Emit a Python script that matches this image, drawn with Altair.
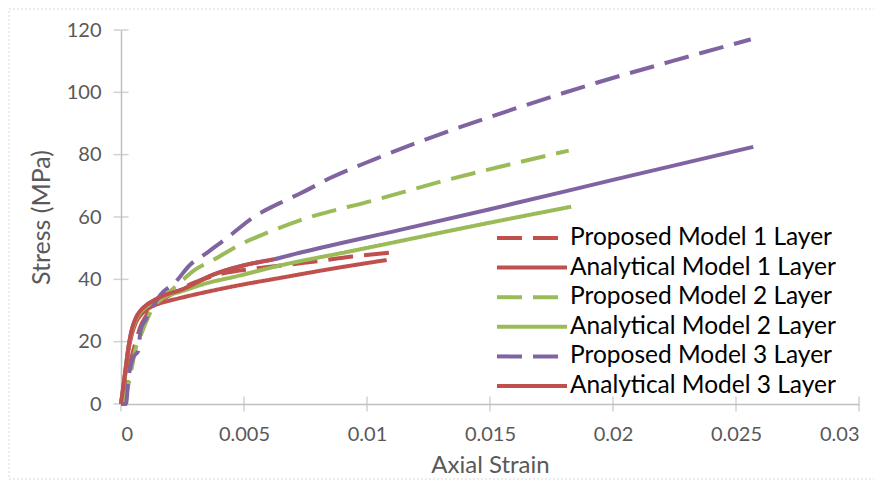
import altair as alt
import pandas as pd

# ---------------- data ----------------
series_names = [
    "Proposed Model 1 Layer",
    "Analytical Model 1 Layer",
    "Proposed Model 2 Layer",
    "Analytical Model 2 Layer",
    "Proposed Model 3 Layer",
    "Analytical Model 3 Layer",
]
series_colors = ["#C0504D", "#C0504D", "#9BBB59", "#9BBB59", "#8064A2", "#C0504D"]
series_dash = [[25, 11], [1, 0], [25, 11], [1, 0], [25, 11], [1, 0]]

p1_strain = [0, 0.0002, 0.0004, 0.0006, 0.0008, 0.001, 0.0014, 0.002, 0.003, 0.0042, 0.0055, 0.0078, 0.0094, 0.0109]
p1_stress = [0, 5, 14, 20, 25, 28, 32, 35, 39, 42, 43.5, 45.6, 47.3, 48.5]

a1_strain = [0, 0.0001, 0.0002, 0.0003, 0.0004, 0.0006, 0.0008, 0.001, 0.0014, 0.0018, 0.0024, 0.0035, 0.0046, 0.0065, 0.0085, 0.0108]
a1_stress = [0, 5, 11, 17, 21, 26, 28.5, 30, 31.8, 32.8, 34, 36, 37.8, 40.5, 43.3, 46.2]

p2_strain = [0, 0.0002, 0.0004, 0.0006, 0.0008, 0.001, 0.0013, 0.0017, 0.0024, 0.003, 0.00375, 0.0048, 0.0059, 0.0073, 0.0103, 0.0133, 0.0163, 0.0182]
p2_stress = [0, 3, 10, 18, 22, 26, 31, 34, 39, 43, 46.2, 51, 54.8, 59, 65.4, 72, 77.8, 81.3]

a2_strain = [0, 0.0001, 0.0002, 0.0003, 0.0004, 0.0006, 0.0008, 0.001, 0.0014, 0.0018, 0.0024, 0.0035, 0.0046, 0.0065, 0.0092, 0.0113, 0.014, 0.0183]
a2_stress = [0, 5, 12, 18, 22, 27, 29.5, 31, 33, 34.5, 36, 38.8, 40.8, 44.5, 48.8, 52.2, 56.6, 63.3]

p3_strain = [0, 0.0002, 0.0003, 0.0005, 0.0007, 0.0008, 0.001, 0.0012, 0.0016, 0.0022, 0.0028, 0.0034, 0.0042, 0.0054, 0.0067, 0.0073, 0.0085, 0.0103, 0.0133, 0.0163, 0.0193, 0.0224, 0.0256]
p3_stress = [0, 0, 8, 15, 17, 24, 27, 30, 35, 39, 44.6, 48, 52.6, 60, 65.4, 67.6, 72.5, 78.5, 87.5, 95.5, 103, 110, 117]

a3_strain = [0, 0.0001, 0.0002, 0.0003, 0.0004, 0.0006, 0.0008, 0.001, 0.0014, 0.0018, 0.0024, 0.00375, 0.005, 0.0062, 0.0073, 0.0113, 0.015, 0.02, 0.0257]
a3_stress = [0, 6, 12, 18, 22.5, 27.5, 30, 31.5, 33.5, 35, 36.5, 41.5, 44.5, 46.4, 48.6, 55.8, 62.5, 71.9, 82.5]
a3_red_points = 14  # the red-drawn part of the 3-layer analytical curve

x_ticks = [0, 0.005, 0.01, 0.015, 0.02, 0.025, 0.03]
y_ticks = [0, 20, 40, 60, 80, 100, 120]

# ---------------- tables ----------------
rows = []
def add(name, xs, ys):
    for i, (x, y) in enumerate(zip(xs, ys)):
        rows.append({"series": name, "strain": x, "stress": y, "i": i})

add(series_names[0], p1_strain, p1_stress)
add(series_names[1], a1_strain, a1_stress)
add(series_names[2], p2_strain, p2_stress)
add(series_names[3], a2_strain, a2_stress)
add(series_names[4], p3_strain, p3_stress)
add(series_names[5], a3_strain[:a3_red_points], a3_stress[:a3_red_points])
df = pd.DataFrame(rows)

purple_df = pd.DataFrame({"strain": a3_strain, "stress": a3_stress, "i": list(range(len(a3_strain)))})
xt_df = pd.DataFrame({"strain": x_ticks, "stress": [0] * len(x_ticks)})
yt_df = pd.DataFrame({"strain": [0] * len(y_ticks), "stress": y_ticks})

FONT = "Lato"
AX = "#BFBFBF"
TXT = "#595959"

x_scale = alt.Scale(domain=[0, 0.03], nice=False, zero=True)
y_scale = alt.Scale(domain=[0, 120], nice=False)

x_enc = alt.X("strain:Q", scale=x_scale, title="Axial Strain",
              axis=alt.Axis(values=x_ticks, format="~g", ticks=False, grid=False,
                            labelPadding=20, titlePadding=9, domainColor=AX, domainWidth=1.5,
                            labelColor=TXT, titleColor=TXT, labelFontSize=20, titleFontSize=24,
                            labelFont=FONT, titleFont=FONT, titleFontWeight="normal"))
y_enc = alt.Y("stress:Q", scale=y_scale, title="Stress (MPa)",
              axis=alt.Axis(values=y_ticks, format="d", ticks=False, grid=False,
                            labelPadding=20, titlePadding=12, domainColor=AX, domainWidth=1.5,
                            labelColor=TXT, titleColor=TXT, labelFontSize=20, titleFontSize=25,
                            labelFont=FONT, titleFont=FONT, titleFontWeight="normal"))

legend = alt.Legend(title=None, orient="none", legendX=395, legendY=192,
                    symbolType="M-2.5,0H2.5", symbolSize=784, symbolStrokeWidth=4,
                    symbolFillColor="transparent",
                    labelFont=FONT, labelFontSize=24.5, labelColor="#000000",
                    labelOffset=22, rowPadding=1.6, labelLimit=400)

purple_line = alt.Chart(purple_df).mark_line(strokeWidth=4, color="#8064A2", interpolate="monotone").encode(
    x=x_enc, y=y_enc, order="i:Q")

lines = alt.Chart(df).mark_line(strokeWidth=4, interpolate="monotone").encode(
    x=alt.X("strain:Q", scale=x_scale),
    y=alt.Y("stress:Q", scale=y_scale),
    color=alt.Color("series:N", scale=alt.Scale(domain=series_names, range=series_colors), legend=legend),
    strokeDash=alt.StrokeDash("series:N", scale=alt.Scale(domain=series_names, range=series_dash), legend=legend),
    order="i:Q",
)

xticks = alt.Chart(xt_df).mark_tick(orient="vertical", size=15, thickness=1.5, color=AX).encode(
    x=alt.X("strain:Q", scale=x_scale), y=alt.Y("stress:Q", scale=y_scale))
yticks = alt.Chart(yt_df).mark_tick(orient="horizontal", size=15, thickness=1.5, color=AX).encode(
    x=alt.X("strain:Q", scale=x_scale), y=alt.Y("stress:Q", scale=y_scale))

frame = alt.Chart(pd.DataFrame({"a": [0]})).mark_rect(
    filled=False, stroke="#D9D9D9", strokeDash=[2, 2], strokeWidth=1).encode(
    x=alt.value(-112), x2=alt.value(758), y=alt.value(-21), y2=alt.value(449))

chart = alt.layer(frame, xticks, yticks, purple_line, lines).properties(
    width=738, height=374,
    padding={"left": 113, "top": 22, "right": 15, "bottom": 78},
    autosize=alt.AutoSizeParams(type="none"),
    background="white",
).configure_view(stroke=None)

chart.save("out.html", embed_options={"renderer": "svg", "actions": False})
